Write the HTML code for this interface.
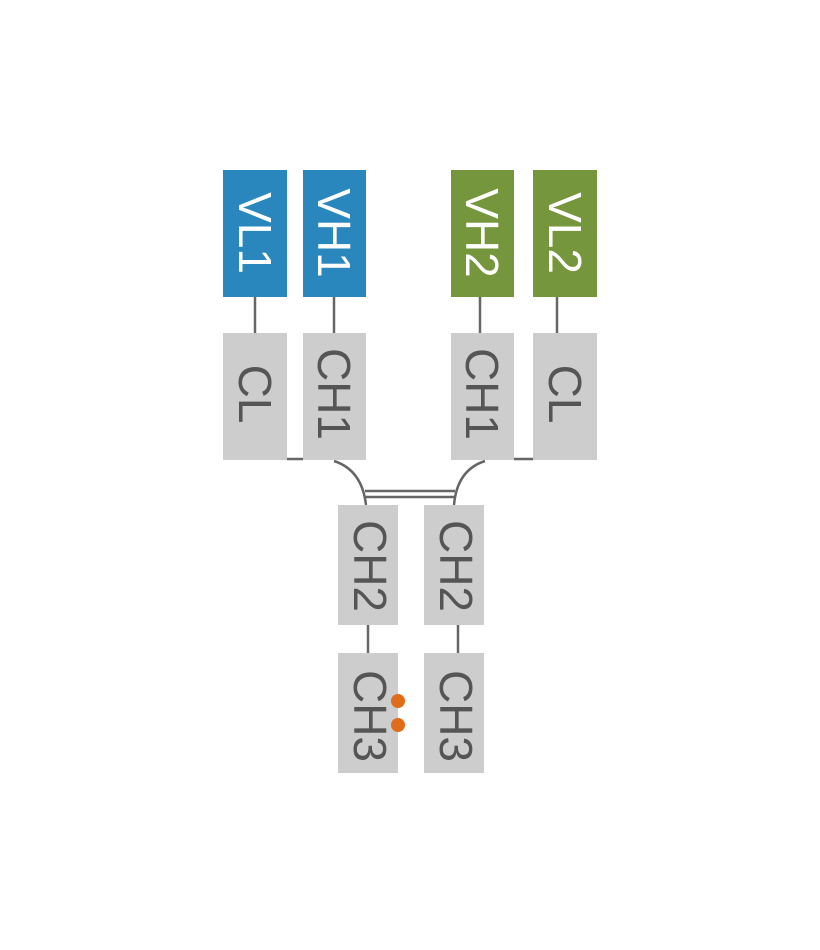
<!DOCTYPE html>
<html><head><style>html,body{margin:0;padding:0;background:#fff}</style></head>
<body>
<svg width="820" height="945" xmlns="http://www.w3.org/2000/svg" font-family="Liberation Sans, sans-serif">
<rect width="820" height="945" fill="#fff"/>
<g stroke="#666" stroke-width="2.5" fill="none">
<line x1="255" y1="297" x2="255" y2="333"/>
<line x1="334" y1="297" x2="334" y2="333"/>
<line x1="480" y1="297" x2="480" y2="333"/>
<line x1="557" y1="297" x2="557" y2="333"/>
<line x1="287" y1="459" x2="303" y2="459"/>
<line x1="514" y1="459" x2="533" y2="459"/>
<path d="M334,461 Q362,470 366,505"/>
<path d="M485,461 Q457,470 454,505"/>
<line x1="365" y1="491" x2="455" y2="491"/>
<line x1="365" y1="497" x2="455" y2="497"/>
<line x1="368" y1="625" x2="368" y2="653"/>
<line x1="458" y1="625" x2="458" y2="653"/>
</g>
<rect x="223" y="170" width="64" height="127" fill="#2a87bd"/>
<rect x="303" y="170" width="63" height="127" fill="#2a87bd"/>
<rect x="451" y="170" width="63" height="127" fill="#76963d"/>
<rect x="533" y="170" width="64" height="127" fill="#76963d"/>
<g fill="#cdcdcd">
<rect x="223" y="333" width="64" height="127"/>
<rect x="303" y="333" width="63" height="127"/>
<rect x="451" y="333" width="63" height="127"/>
<rect x="533" y="333" width="64" height="127"/>
<rect x="338" y="505" width="60" height="120"/>
<rect x="424" y="505" width="60" height="120"/>
<rect x="338" y="653" width="60" height="120"/>
<rect x="424" y="653" width="60" height="120"/>
</g>
<g font-size="46" text-anchor="middle" dominant-baseline="central">
<text transform="translate(255,233) rotate(90)" fill="#fff">VL1</text>
<text transform="translate(334,233) rotate(90)" fill="#fff">VH1</text>
<text transform="translate(482,233) rotate(90)" fill="#fff">VH2</text>
<text transform="translate(565,233) rotate(90)" fill="#fff">VL2</text>
<text transform="translate(255,394) rotate(90)" fill="#555">CL</text>
<text transform="translate(334,394) rotate(90)" fill="#555">CH1</text>
<text transform="translate(482,394) rotate(90)" fill="#555">CH1</text>
<text transform="translate(565,394) rotate(90)" fill="#555">CL</text>
<text transform="translate(370,566) rotate(90)" fill="#555">CH2</text>
<text transform="translate(456,566) rotate(90)" fill="#555">CH2</text>
<text transform="translate(370,716) rotate(90)" fill="#555">CH3</text>
<text transform="translate(456,716) rotate(90)" fill="#555">CH3</text>
</g>
<circle cx="398" cy="701" r="7" fill="#e06c1a"/>
<circle cx="398" cy="725" r="7" fill="#e06c1a"/>
</svg>
</body></html>
